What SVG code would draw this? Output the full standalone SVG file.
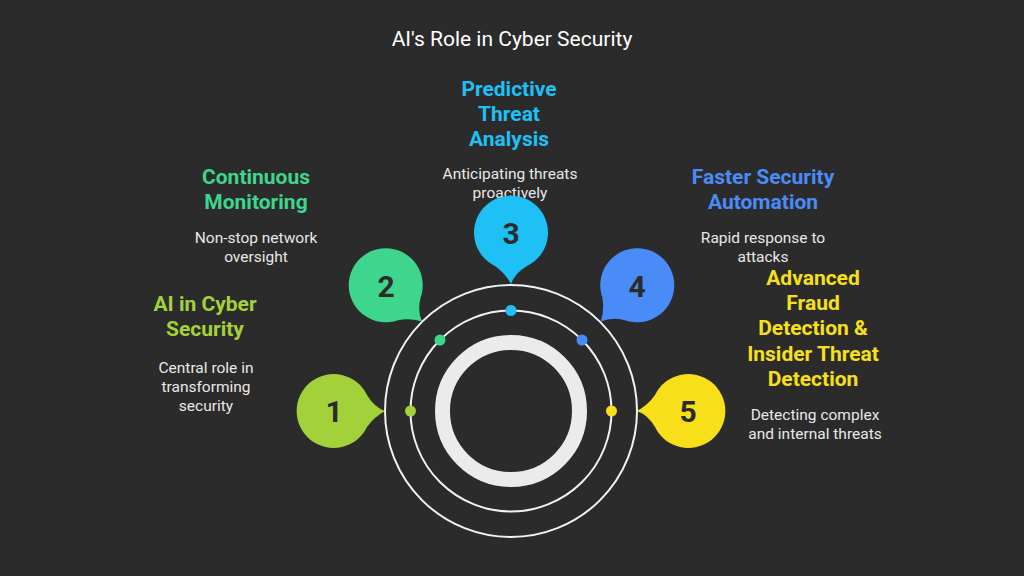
<svg xmlns="http://www.w3.org/2000/svg" width="1024" height="576" viewBox="0 0 1024 576">
<style>
.title{font-family:Roboto,"Liberation Sans",sans-serif;font-size:21px;fill:#ffffff;text-anchor:middle}
.head{font-family:Roboto,"Liberation Sans",sans-serif;font-size:21px;font-weight:bold;text-anchor:middle}
.desc{font-family:Roboto,"Liberation Sans",sans-serif;font-size:15.5px;fill:#e8e8e8;text-anchor:middle}
.num{font-family:Roboto,"Liberation Sans",sans-serif;font-size:30px;font-weight:bold;fill:#2b2b2b;text-anchor:middle}
.orbit{fill:none;stroke:#f2f2f2;stroke-width:2}
</style>
<defs>
<path id="bub" d="M 33,-16 A 37 37 0 1 0 33,16 Q 40,6 51,0 Q 40,-4 33,-16 Z"/>
</defs>
<rect width="1024" height="576" fill="#2b2b2b"/>
<text class="title" x="512" y="46">AI's Role in Cyber Security</text>
<g id="rings">
<circle class="orbit" cx="511" cy="411" r="126"/>
<circle class="orbit" cx="511" cy="411" r="100.5"/>
<circle cx="511" cy="411" r="68.5" fill="none" stroke="#ebebeb" stroke-width="15"/>
</g>
<g id="connectors">
<circle cx="410.5" cy="411" r="5.5" fill="#a3d13a"/>
<circle cx="440" cy="340" r="5.5" fill="#3dd68c"/>
<circle cx="511" cy="310.5" r="5.5" fill="#1ec0f5"/>
<circle cx="582" cy="340" r="5.5" fill="#4a8cf7"/>
<circle cx="611.5" cy="411" r="5.5" fill="#f7e01a"/>
</g>
<g id="node1">
<use href="#bub" transform="translate(334,411)" fill="#a3d13a"/>
<text class="num" x="334" y="422">1</text>
<text class="head" x="205" y="311" fill="#a3d13a">AI in Cyber</text>
<text class="head" x="205" y="336" fill="#a3d13a">Security</text>
<text class="desc" x="206" y="373">Central role in</text>
<text class="desc" x="206" y="392">transforming</text>
<text class="desc" x="206" y="411">security</text>
</g>
<g id="node2">
<use href="#bub" transform="translate(386,285.5) rotate(45)" fill="#3dd68c"/>
<text class="num" x="386" y="296.5">2</text>
<text class="head" x="256" y="184" fill="#3dd68c">Continuous</text>
<text class="head" x="256" y="209" fill="#3dd68c">Monitoring</text>
<text class="desc" x="256" y="243">Non-stop network</text>
<text class="desc" x="256" y="262">oversight</text>
</g>
<g id="node3">
<text class="head" x="509" y="96" fill="#1ec0f5">Predictive</text>
<text class="head" x="509" y="121" fill="#1ec0f5">Threat</text>
<text class="head" x="509" y="146" fill="#1ec0f5">Analysis</text>
<text class="desc" x="510" y="179">Anticipating threats</text>
<text class="desc" x="510" y="198">proactively</text>
<use href="#bub" transform="translate(511,233) rotate(90)" fill="#1ec0f5"/>
<text class="num" x="511" y="244">3</text>
</g>
<g id="node4">
<use href="#bub" transform="translate(637,285.5) rotate(135)" fill="#4a8cf7"/>
<text class="num" x="637" y="296.5">4</text>
<text class="head" x="763" y="184" fill="#4a8cf7">Faster Security</text>
<text class="head" x="763" y="209" fill="#4a8cf7">Automation</text>
<text class="desc" x="763" y="243">Rapid response to</text>
<text class="desc" x="763" y="262">attacks</text>
</g>
<g id="node5">
<use href="#bub" transform="translate(688,411) rotate(180)" fill="#f7e01a"/>
<text class="num" x="688" y="422">5</text>
<text class="head" x="813" y="285" fill="#f7e01a">Advanced</text>
<text class="head" x="813" y="310" fill="#f7e01a">Fraud</text>
<text class="head" x="813" y="335" fill="#f7e01a">Detection &amp;</text>
<text class="head" x="813" y="361" fill="#f7e01a">Insider Threat</text>
<text class="head" x="813" y="386" fill="#f7e01a">Detection</text>
<text class="desc" x="815" y="420">Detecting complex</text>
<text class="desc" x="815" y="439">and internal threats</text>
</g>
</svg>
